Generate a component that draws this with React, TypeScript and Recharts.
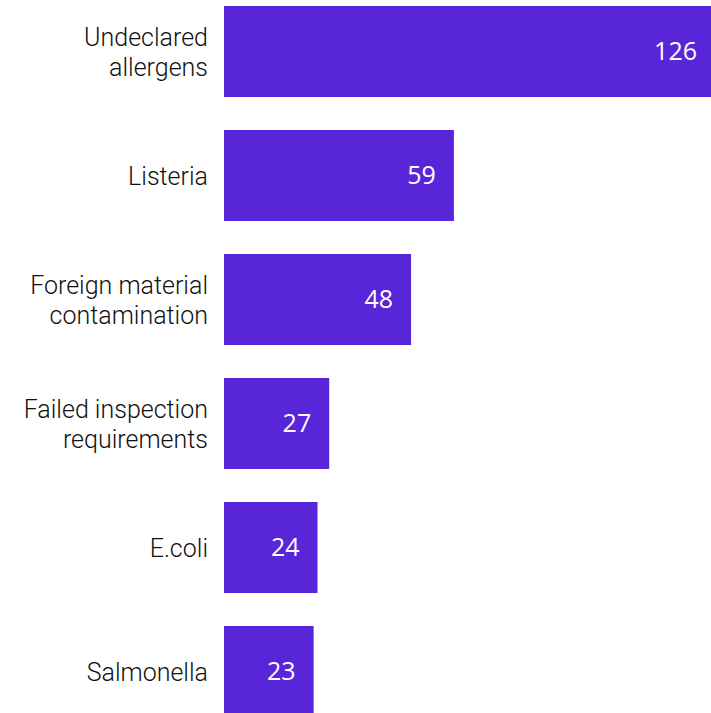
import React from 'react';
import { BarChart, Bar, XAxis, YAxis, LabelList } from 'recharts';

const categories = [
  'Undeclared allergens',
  'Listeria',
  'Foreign material contamination',
  'Failed inspection requirements',
  'E.coli',
  'Salmonella',
];
const categoryLines = [
  ['Undeclared', 'allergens'],
  ['Listeria'],
  ['Foreign material', 'contamination'],
  ['Failed inspection', 'requirements'],
  ['E.coli'],
  ['Salmonella'],
];
const recalls = [126, 59, 48, 27, 24, 23];

const data = categories.map((name, i) => ({ name, value: recalls[i] }));

const CategoryTick = (props: any) => {
  const { x, y, payload } = props;
  const lines = categoryLines[categories.indexOf(payload.value)] || [payload.value];
  const lineHeight = 30;
  const startY = y - ((lines.length - 1) * lineHeight) / 2 + 1;
  return (
    <text
      x={x}
      y={startY}
      textAnchor="end"
      fontFamily="Roboto"
      fontWeight={300}
      fontSize={25}
      fill="#111111"
    >
      {lines.map((line: string, i: number) => (
        <tspan key={i} x={x} y={startY + i * lineHeight} dy="0.36em">
          {line}
        </tspan>
      ))}
    </text>
  );
};

const App: React.FC = () => {
  return (
    <div style={{ position: 'absolute', left: 0, top: 0, width: 711, height: 713, overflow: 'hidden', background: '#fff' }}>
      <div style={{ position: 'absolute', left: 0, top: -11.5 }}>
        <BarChart
          layout="vertical"
          width={715}
          height={744}
          data={data}
          margin={{ top: 0, right: 0, bottom: 0, left: 0 }}
        >
          <XAxis type="number" domain={[0, 126]} hide />
          <YAxis
            type="category"
            dataKey="name"
            width={224}
            axisLine={false}
            tickLine={false}
            tickMargin={10}
            tick={<CategoryTick />}
            interval={0}
          />
          <Bar dataKey="value" fill="#5925d9" barSize={91} isAnimationActive={false}>
            <LabelList
              dataKey="value"
              position="insideRight"
              offset={18}
              fill="#ffffff"
              fontFamily="Open Sans"
              fontSize={25}
            />
          </Bar>
        </BarChart>
      </div>
    </div>
  );
};

export default App;
